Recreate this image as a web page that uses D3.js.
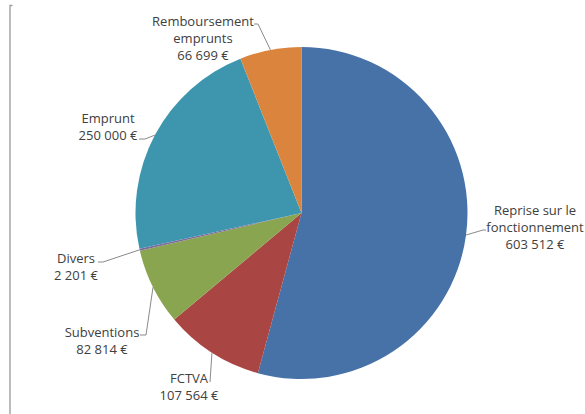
<!DOCTYPE html>
<html>
<head>
<meta charset="utf-8">
<script src="https://cdn.jsdelivr.net/npm/d3@7"></script>
<style>
    html, body { margin: 0; padding: 0; background: #fff; }
    #chart { width: 585px; height: 414px; }
</style>
</head>
<body>
<div id="chart"></div>
<script>
// Data (clockwise from 12 o'clock)
const categories = ['Reprise sur le fonctionnement', 'FCTVA', 'Subventions', 'Divers', 'Emprunt', 'Remboursement emprunts']
const labelLines = [['Reprise sur le', 'fonctionnement'], ['FCTVA'], ['Subventions'], ['Divers'], ['Emprunt'], ['Remboursement', 'emprunts']]
const values = [603512, 107564, 82814, 2201, 250000, 66699]
const colours = ['#4672a8', '#a94644', '#8aa54f', '#7f6a9b', '#3e96ae', '#db843d']

document.addEventListener('DOMContentLoaded', () => {
    const width = 585
    const height = 414
    const cx = 301.5
    const cy = 213
    const radius = 166
    const lineHeight = 17

    const fr = d3.formatLocale({ decimal: ',', thousands: '\u00a0', grouping: [3], currency: ['', '\u00a0€'] })
    const formatEuro = fr.format('$,.0f')

    // label layout: first baseline, text anchor, elbow of the leader and where it meets the text
    const labelLayout = [
        { x: 535, y: 215, anchor: 'middle', elbow: [483, 230], end: [486, 230] },
        { x: 189, y: 383, anchor: 'middle', elbow: [210, 382], end: [210, 382] },
        { x: 102, y: 337, anchor: 'middle', elbow: [146, 335], end: [140, 335] },
        { x: 76, y: 263, anchor: 'middle', elbow: [103, 262], end: [98, 262] },
        { x: 108, y: 123, anchor: 'middle', elbow: [145, 139], end: [139, 139] },
        { x: 203, y: 26, anchor: 'middle', elbow: [258, 24], end: [254, 24] }
    ]

    const svg = d3.select('#chart')
        .append('svg')
        .attr('width', width)
        .attr('height', height)
        .attr('viewBox', [0, 0, width, height])

    // frame edge
    svg.append('path')
        .attr('d', 'M12.5,5.5 H10 V414')
        .attr('fill', 'none')
        .attr('stroke', '#a0a0a0')
        .attr('stroke-width', 1.4)

    const data = categories.map((c, i) => ({ category: c, value: values[i], lines: labelLines[i], colour: colours[i], layout: labelLayout[i] }))

    const pie = d3.pie().sort(null).value(d => d.value)
    const arcs = pie(data)
    const arc = d3.arc().innerRadius(0).outerRadius(radius)

    const g = svg.append('g')
        .attr('transform', `translate(${cx}, ${cy})`)

    g.selectAll('path.slice')
        .data(arcs)
        .enter()
        .append('path')
        .attr('class', 'slice')
        .attr('d', arc)
        .attr('fill', d => d.data.colour)

    // Leader lines
    svg.append('g')
        .selectAll('path')
        .data(arcs)
        .enter()
        .append('path')
        .attr('fill', 'none')
        .attr('stroke', '#8a8a8a')
        .attr('stroke-width', 1)
        .attr('d', d => {
            const a = (d.startAngle + d.endAngle) / 2
            const px = cx + radius * Math.sin(a)
            const py = cy - radius * Math.cos(a)
            const l = d.data.layout
            return d3.line()([[px, py], l.elbow, l.end])
        })

    // Labels
    const labels = svg.append('g')
        .selectAll('text')
        .data(arcs)
        .enter()
        .append('text')
        .attr('font-family', '"Open Sans", sans-serif')
        .attr('font-size', '13px')
        .attr('fill', '#404040')
        .attr('text-anchor', d => d.data.layout.anchor)
        .attr('x', d => d.data.layout.x)
        .attr('y', d => d.data.layout.y)

    labels.selectAll('tspan')
        .data(d => d.data.lines.concat([formatEuro(d.data.value)]).map(t => ({ t, x: d.data.layout.x })))
        .enter()
        .append('tspan')
        .attr('x', d => d.x)
        .attr('dy', (d, i) => i === 0 ? 0 : lineHeight)
        .text(d => d.t)
})
</script>
</body>
</html>
